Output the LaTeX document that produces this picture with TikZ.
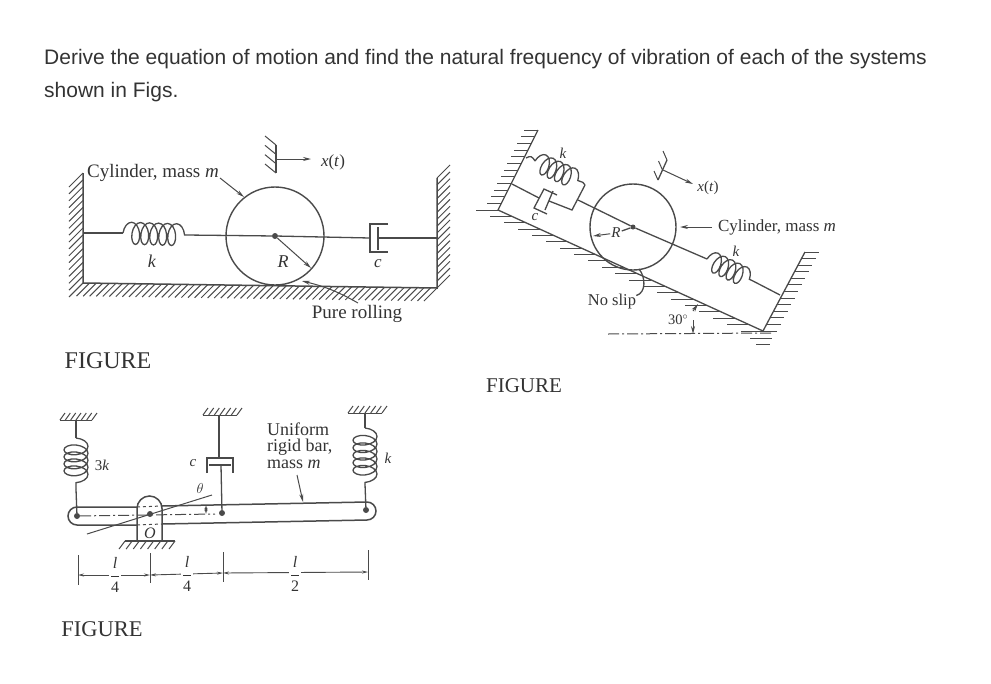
\documentclass[tikz,border=0pt]{standalone}
\usepackage{fontspec}
\setmainfont{Liberation Serif}
\newfontfamily\qfont{Liberation Sans}
\usetikzlibrary{arrows.meta,calc,decorations.pathmorphing}
\definecolor{scan}{HTML}{4A4A4A}
\definecolor{ink}{HTML}{333333}
\tikzset{
  part/.style={draw=scan,line width=1.3pt},
  hatchline/.style={draw=scan,line width=1pt},
  arr/.style={draw=scan,line width=1pt,-{Stealth[length=8pt,width=4pt]}},
  dimline/.style={draw=scan,line width=0.9pt,{Stealth[length=6pt,width=3pt]}-{Stealth[length=6pt,width=3pt]}},
  axisline/.style={draw=scan,line width=1pt,dash pattern=on 11pt off 3pt on 2pt off 3pt},
  hiddenline/.style={draw=scan,line width=1pt,dash pattern=on 3pt off 3pt},
  wheel/.style={circle,draw=scan,line width=1.4pt,inner sep=0pt},
  pin/.style={circle,fill=scan,inner sep=0pt,minimum size=6pt},
  lab/.style={text=ink,inner sep=0pt,font=\fontsize{#1}{#1}\selectfont},
  lab/.default=17,
  coilspring/.style n args={2}{part,decorate,
    decoration={coil,aspect=0.55,segment length=#1,amplitude=#2}}
}
\newcommand{\wallhatch}[4]{%
  \foreach \i in {0,...,#3}{\draw[hatchline] ($(#1)!\i/#3!(#2)$) -- ++(#4);}}
\newcommand{\lfrac}[1]{$\displaystyle\frac{\mbox{\textit{l}}}{\mbox{#1}}$}
\begin{document}
\begin{tikzpicture}[x=1pt,y=-1pt]
  \useasboundingbox (0,0) rectangle (991,683);
  \node[anchor=base west,inner sep=0pt,text=ink,font=\qfont\fontsize{21}{21}\selectfont] (line1)
    at (44,64) {Derive the equation of motion and find the natural frequency of vibration of each of the systems};
  \node[anchor=base west,inner sep=0pt,text=ink,font=\qfont\fontsize{21}{21}\selectfont] (line2)
    at (44,97) {shown in Figs.};

  \coordinate (wallL) at (83,173);
  \coordinate (floorL) at (83,283);
  \coordinate (floorR) at (437,288);
  \coordinate (wallR) at (437,178);
  \coordinate (springL) at (83,233);
  \coordinate (coilA) at (123,233);
  \coordinate (coilB) at (186,235);
  \coordinate (potL) at (370,238);
  \coordinate (potTop) at (370,224);
  \coordinate (potBot) at (370,252);
  \coordinate (potTopR) at (388,224);
  \coordinate (potBotR) at (388,252);
  \coordinate (pistonT) at (378,227);
  \coordinate (pistonB) at (378,250);
  \coordinate (rodM) at (378,238);
  \coordinate (rodR) at (437,238);
  \coordinate (stubT) at (276,145);
  \coordinate (stubB) at (276,173);
  \coordinate (stubM) at (276,159);
  \coordinate (stubX) at (311,159);
  \coordinate (tipR) at (311,268);
  \coordinate (massA) at (220,178);
  \coordinate (massB) at (244,197);
  \coordinate (rollA) at (358,303);
  \coordinate (rollB) at (302,281);
  \draw
    (275,236) node[wheel,minimum size=98pt] (cyl1){}
    (275,236) node[pin] (hub1){}
    (153,173) node[lab=19] (mass1){Cylinder, mass \textit{m}}
    (152,261) node[lab=18] (k1){\textit{k}}
    (283,262) node[lab=18] (R1){\textit{R}}
    (378,264) node[lab=17] (c1){\textit{c}}
    (333,162) node[lab=17] (x1){\textit{x}(\textit{t})}
    (357,314) node[lab=19] (roll1){Pure rolling}
    (108,361) node[lab=24] (fig1){FIGURE};
  \begin{scope}[-]
    \draw[part,line width=1.5pt] (wallL) to (floorL) to (floorR) to (wallR);
    \wallhatch{wallL}{floorL}{16}{-14,14}
    \wallhatch{floorL}{floorR}{54}{-13,13}
    \wallhatch{wallR}{floorR}{16}{13,-13}
    \draw[part] (springL) to (coilA);
    \draw[coilspring={9pt}{11pt}] (coilA) to (coilB);
    \draw[part] (coilB) to (hub1);
    \draw[part] (hub1) to (potL);
    \draw[part] (potTopR) to (potTop) to (potBot) to (potBotR);
    \draw[part] (pistonT) to (pistonB);
    \draw[part] (rodM) to (rodR);
    \draw[part] (stubT) to (stubB);
    \wallhatch{stubT}{stubB}{3}{-11,-9}
    \draw[arr] (stubM) to (stubX);
    \draw[arr] (hub1) to (tipR);
    \draw[arr] (massA) to (massB);
    \draw[arr] (rollA) to[bend right=8] (rollB);
  \end{scope}

  \coordinate (slopeT) at (538,130);
  \coordinate (slopeL) at (498,210);
  \coordinate (slopeB) at (763,331);
  \coordinate (slopeR) at (805,252);
  \coordinate (axisL) at (512,184);
  \coordinate (axisR) at (780,295);
  \coordinate (frameB) at (572,210);
  \coordinate (frameT) at (585,185);
  \coordinate (frameM) at (578,200);
  \coordinate (leadA) at (526,158);
  \coordinate (leadB) at (535,161);
  \coordinate (leadC) at (579,181);
  \coordinate (coil2A) at (707,259);
  \coordinate (coil2B) at (753,281);
  \coordinate (pot2A) at (544,189);
  \coordinate (pot2B) at (534,208);
  \coordinate (pot2AR) at (557,195);
  \coordinate (pot2BR) at (547,214);
  \coordinate (piston2A) at (553,191);
  \coordinate (piston2B) at (545,210);
  \coordinate (potrodA) at (539,198);
  \coordinate (potrodB) at (549,201);
  \coordinate (dash2A) at (608,334);
  \coordinate (dash2B) at (772,333);
  \coordinate (stub2T) at (667,160);
  \coordinate (stub2B) at (658,180);
  \coordinate (stub2M) at (663,170);
  \coordinate (stub2X) at (693,184);
  \coordinate (mass2A) at (712,227);
  \coordinate (mass2B) at (680,227);
  \coordinate (tip2) at (593,236);
  \coordinate (slipB) at (639,269);
  \coordinate (angleA) at (693,311);
  \coordinate (angleB) at (698,304);
  \coordinate (angleC) at (693,320);
  \coordinate (angleD) at (693,334);
  \coordinate (cornerA) at (750,338);
  \coordinate (cornerB) at (772,338);
  \coordinate (cornerC) at (756,344);
  \coordinate (cornerD) at (770,344);
  \draw
    (633,227) node[wheel,minimum size=86pt] (cyl2){}
    (633,227) node[pin,minimum size=5pt] (hub2){}
    (563,153) node[lab=15] (k2){\textit{k}}
    (535,217) node[lab=15] (c2){\textit{c}}
    (616,233) node[lab=15,fill=white,inner sep=1pt] (R2){\textit{R}}
    (708,188) node[lab=15] (x2){\textit{x}(\textit{t})}
    (777,227) node[lab=17] (mass2){Cylinder, mass \textit{m}}
    (736,251) node[lab=15] (k3){\textit{k}}
    (612,302) node[lab=16.5] (slip2){No slip}
    (678,320) node[lab=14.5] (ang2){30$^\circ$}
    (524,386) node[lab=21] (fig2){FIGURE};
  \begin{scope}[-]
    \draw[part] (slopeT) to (slopeL) to (slopeB) to (slopeR);
    \wallhatch{slopeT}{slopeL}{12}{-14,0}
    \wallhatch{slopeL}{slopeB}{19}{-22,0}
    \wallhatch{slopeB}{slopeR}{12}{14,0}
    \draw[hatchline] (cornerA) to (cornerB);
    \draw[hatchline] (cornerC) to (cornerD);
    \draw[axisline] (dash2A) to (dash2B);
    \draw[part] (axisL) to (potrodA);
    \draw[part] (potrodB) to (frameB) to (frameT);
    \draw[part] (pot2AR) to (pot2A) to (pot2B) to (pot2BR);
    \draw[part] (piston2A) to (piston2B);
    \draw[part] (frameM) to (hub2);
    \draw[part] (hub2) to (coil2A);
    \draw[part] (coil2B) to (axisR);
    \draw[part] (leadA) to[out=30,in=120,looseness=1.4] (leadB);
    \draw[coilspring={8pt}{10pt}] (leadB) to (leadC);
    \draw[part] (leadC) to[out=-20,in=100] (frameT);
    \draw[coilspring={8pt}{10pt}] (coil2A) to (coil2B);
    \draw[part] (stub2T) to (stub2B);
    \wallhatch{stub2T}{stub2B}{2}{-4,-9}
    \draw[arr] (stub2M) to (stub2X);
    \draw[arr] (mass2A) to (mass2B);
    \draw[arr] (R2) to (tip2);
    \draw[part] (hub2) to (R2);
    \draw[part] (slip2) to[out=15,in=-50] (slipB);
    \draw[arr] (angleA) to (angleB);
    \draw[arr] (angleC) to (angleD);
  \end{scope}

  \coordinate (roofA1) at (60,420);
  \coordinate (roofA2) at (92,420);
  \coordinate (roofB1) at (203,415);
  \coordinate (roofB2) at (237,415);
  \coordinate (roofC1) at (348,413);
  \coordinate (roofC2) at (382,413);
  \coordinate (spr3A) at (76,420);
  \coordinate (spr3B) at (76,438);
  \coordinate (spr3C) at (76,489);
  \coordinate (rod3A) at (219,415);
  \coordinate (rod3B) at (219,458);
  \coordinate (cap3L) at (207,458);
  \coordinate (cap3R) at (233,458);
  \coordinate (cap3LB) at (207,473);
  \coordinate (cap3RB) at (233,473);
  \coordinate (pis3L) at (209,465);
  \coordinate (pis3R) at (231,465);
  \coordinate (rod3C) at (221,465);
  \coordinate (spr4A) at (365,413);
  \coordinate (spr4B) at (365,428);
  \coordinate (spr4C) at (365,484);
  \coordinate (barTL) at (137,507);
  \coordinate (barBL) at (137,525);
  \coordinate (barTR) at (162,506);
  \coordinate (barBR) at (162,524);
  \coordinate (gndA) at (125,541);
  \coordinate (gndB) at (175,541);
  \coordinate (rotA) at (87,534);
  \coordinate (rotB) at (212,495);
  \coordinate (angA) at (206,505);
  \coordinate (angB) at (206,514);
  \coordinate (dashA) at (215,514);
  \coordinate (dimA) at (78,575);
  \coordinate (dimB) at (150,575);
  \coordinate (dimC) at (223,573);
  \coordinate (dimD) at (368,572);
  \coordinate (tickAa) at (78,555);
  \coordinate (tickAb) at (78,585);
  \coordinate (tickBa) at (150,553);
  \coordinate (tickBb) at (150,583);
  \coordinate (tickCa) at (223,552);
  \coordinate (tickCb) at (223,582);
  \coordinate (tickDa) at (368,550);
  \coordinate (tickDb) at (368,580);
  \coordinate (unifA) at (297,475);
  \coordinate (unifB) at (303,502);
  \draw
    (77,516) node[pin] (endL){}
    (150,514) node[pin] (pivot){}
    (222,513) node[pin] (midP){}
    (366,510) node[pin] (endR){}
    (102,465) node[lab=15] (k3k){3\textit{k}}
    (193,463) node[lab=15] (c3){\textit{c}}
    (388,458) node[lab=15] (k4){\textit{k}}
    (200,488) node[lab=14] (th3){\textit{$\theta$}}
    (150,533) node[lab=16] (O3){\textit{O}}
    (267,429) node[lab=18,anchor=west] (uni1){Uniform}
    (267,447) node[lab=18,anchor=west] (uni2){rigid bar,}
    (267,464) node[lab=18,anchor=west] (uni3){mass \textit{m}}
    (102,629) node[lab=22.5] (fig3){FIGURE};
  \begin{scope}[-]
    \wallhatch{roofA1}{roofA2}{6}{5,-7}
    \wallhatch{roofB1}{roofB2}{6}{5,-7}
    \wallhatch{roofC1}{roofC2}{6}{5,-7}
    \draw[hatchline] (roofA1) to (roofA2);
    \draw[hatchline] (roofB1) to (roofB2);
    \draw[hatchline] (roofC1) to (roofC2);
    \draw[part] (spr3A) to (spr3B);
    \draw[coilspring={7pt}{12pt}] (spr3B) to (spr3C);
    \draw[part] (spr3C) to (endL);
    \draw[part] (spr4A) to (spr4B);
    \draw[coilspring={7.5pt}{12pt}] (spr4B) to (spr4C);
    \draw[part] (spr4C) to (endR);
    \draw[part] (rod3A) to (rod3B);
    \draw[part] (cap3LB) to (cap3L) to (cap3R) to (cap3RB);
    \draw[part,line width=2pt] (pis3L) to (pis3R);
    \draw[part] (rod3C) to (midP);
    \draw[part,line width=1.5pt] (barTL) -- (77,507) arc[start angle=90,end angle=270,radius=9pt] -- (barBL);
    \draw[part,line width=1.5pt] (barTR) -- (367,502) arc[start angle=90,delta angle=-180,radius=9pt] -- (barBR);
    \draw[part,line width=1.5pt] (137,541) -- (137,508.5) arc[start angle=180,end angle=0,radius=12.5pt] -- (162,541);
    \draw[hiddenline] (barTL) to (barTR);
    \draw[hiddenline] (barBL) to (barBR);
    \draw[part,line width=1.5pt] (gndA) to (gndB);
    \wallhatch{gndA}{gndB}{7}{-6,8}
    \draw[axisline] (endL) to (dashA);
    \draw[part,line width=1pt] (rotA) to (rotB);
    \draw[dimline] (angA) to (angB);
    \draw[arr] (unifA) to (unifB);
    \draw[hatchline] (tickAa) to (tickAb);
    \draw[hatchline] (tickBa) to (tickBb);
    \draw[hatchline] (tickCa) to (tickCb);
    \draw[hatchline] (tickDa) to (tickDb);
    \draw[dimline] (dimA) to (dimB);
    \draw[dimline] (dimB) to (dimC);
    \draw[dimline] (dimC) to (dimD);
  \end{scope}
  \draw
    (115,575) node[lab=16,fill=white,inner sep=1pt] (fracA){\lfrac{4}}
    (187,574) node[lab=16,fill=white,inner sep=1pt] (fracB){\lfrac{4}}
    (295,574) node[lab=16,fill=white,inner sep=1pt] (fracC){\lfrac{2}};
\end{tikzpicture}
\end{document}
